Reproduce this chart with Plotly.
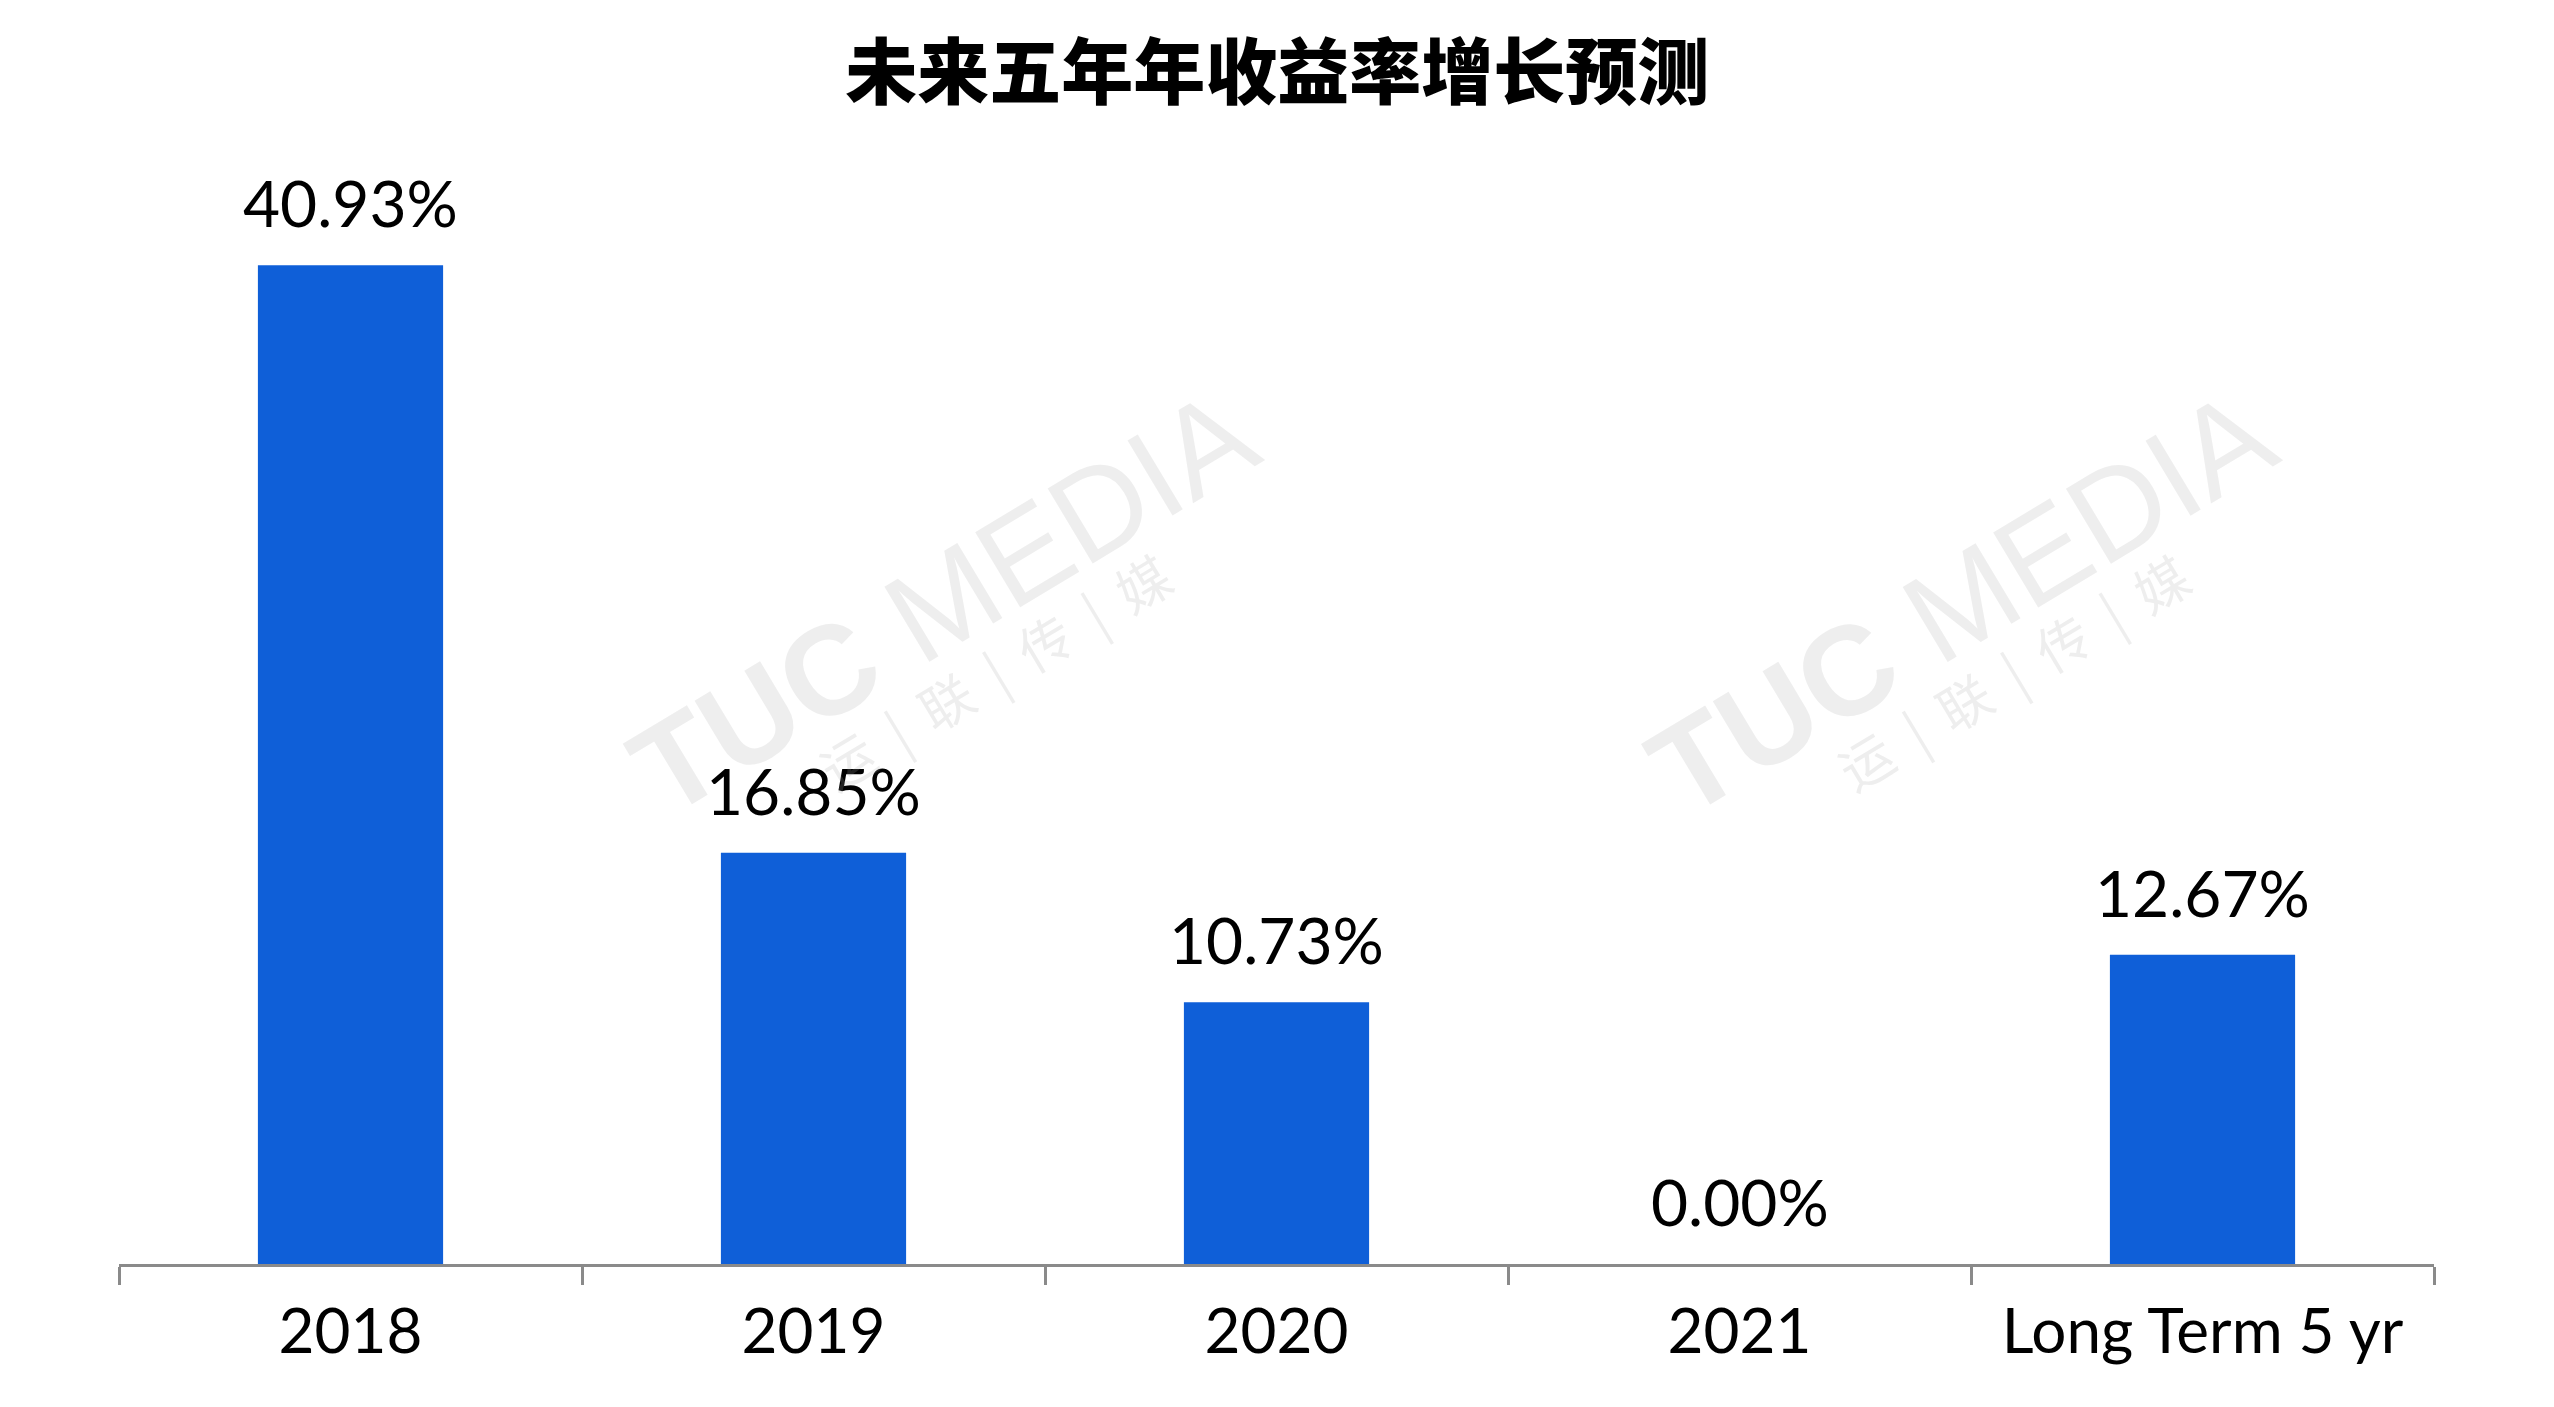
import plotly.graph_objects as go

categories = ["2018", "2019", "2020", "2021", "Long Term 5 yr"]
values = [40.93, 16.85, 10.73, 0.00, 12.67]
labels = ["40.93%", "16.85%", "10.73%", "0.00%", "12.67%"]
title_text = "未来五年年收益率增长预测"

BAR_COLOR = "#0F5FD8"
AXIS_COLOR = "#8A8A8A"
LABEL_FONT = "Lato, 'DejaVu Sans', sans-serif"
WM_COLOR = "rgba(170,170,170,0.2)"

fig = go.Figure()
fig.add_trace(go.Bar(
    x=categories, y=values,
    marker=dict(color=BAR_COLOR, line=dict(width=0)),
    width=0.4, hoverinfo="x+y",
))

# value labels above bars (x given as category index)
for i, (v, t) in enumerate(zip(values, labels)):
    fig.add_annotation(
        x=i, y=v, text=t, showarrow=False, xanchor="center", yanchor="bottom",
        yshift=22, font=dict(family=LABEL_FONT, size=64, color="#000000"),
    )

# faint watermarks
for xc, xz in [(0.356, 0.378), (0.796, 0.818)]:
    fig.add_annotation(
        xref="paper", yref="paper", x=xc, y=0.603, xanchor="center", yanchor="middle",
        showarrow=False, text="<b>TUC</b> MEDIA", textangle=-31,
        font=dict(family="Liberation Sans, Arial, sans-serif", size=127, color=WM_COLOR),
    )
    fig.add_annotation(
        xref="paper", yref="paper", x=xz, y=0.54, xanchor="center", yanchor="middle",
        showarrow=False, text="运 &#160;|&#160; 联 &#160;|&#160; 传 &#160;|&#160; 媒", textangle=-31,
        font=dict(family="Noto Sans CJK SC", size=53, color=WM_COLOR),
    )

fig.update_layout(
    width=2554, height=1407,
    margin=dict(l=111, r=128, t=158, b=151),
    paper_bgcolor="white", plot_bgcolor="white",
    showlegend=False,
    title=dict(
        text=title_text, x=0.497, xanchor="center",
        y=1 - 65 / 1407, yanchor="middle",
        font=dict(family="Noto Sans CJK SC", size=72, color="#000000", weight=900),
    ),
)
fig.update_xaxes(
    type="category", categoryorder="array", categoryarray=categories,
    range=[-0.5, len(categories) - 0.5],
    showline=True, linecolor=AXIS_COLOR, linewidth=3,
    ticks="outside", tickson="boundaries", ticklen=18, tickwidth=3, tickcolor=AXIS_COLOR,
    tickfont=dict(family=LABEL_FONT, size=62, color="#000000"),
    tickangle=0, ticklabelstandoff=12,
    showgrid=False, zeroline=False,
)
fig.update_yaxes(range=[0, 45], visible=False, showgrid=False, zeroline=False)

fig.write_html("out.html")
